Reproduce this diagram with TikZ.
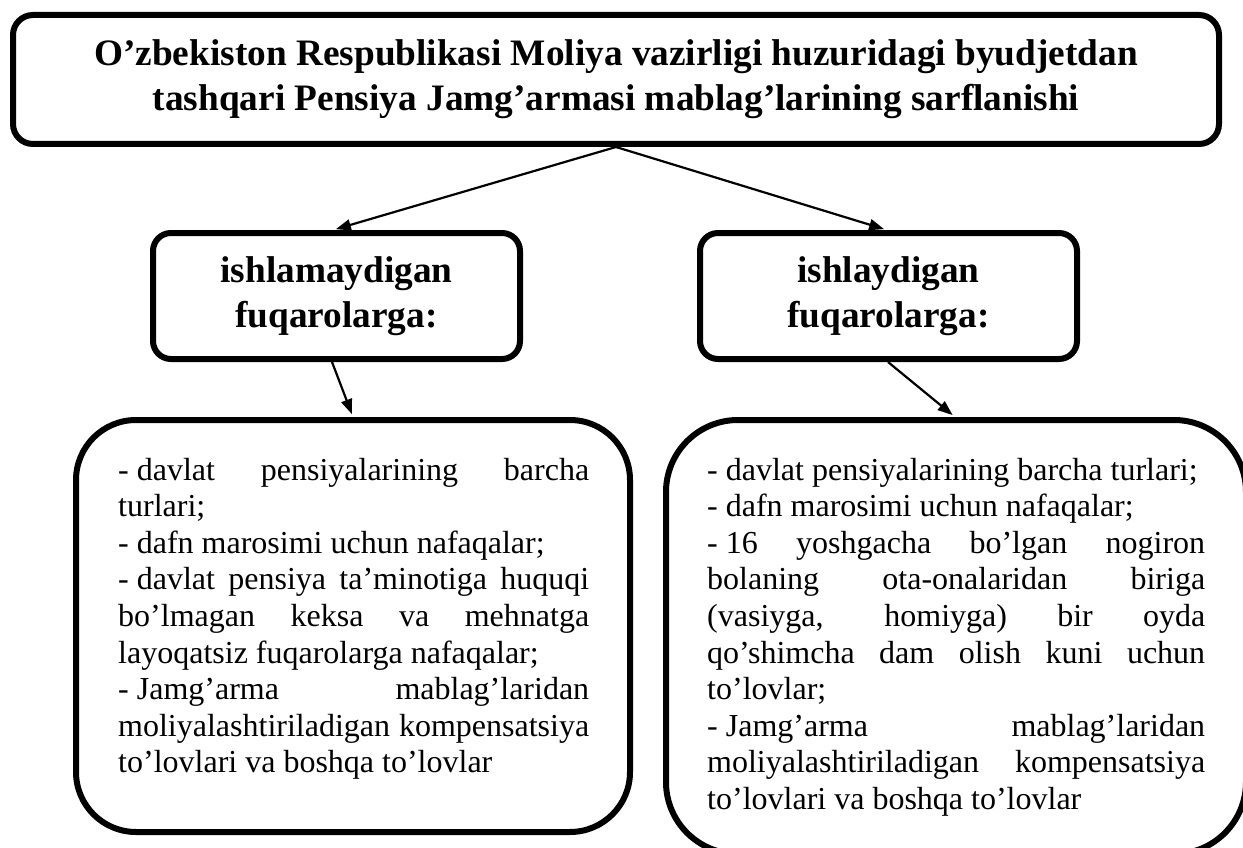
\documentclass[tikz,border=0pt]{standalone}
\usepackage{fontspec}
\setmainfont{Liberation Serif}
\usetikzlibrary{arrows.meta}
\newcommand\jline[2]{\leavevmode\hbox to #1{#2}}
\newcommand\natspaces{\spaceskip=0pt\xspaceskip=0pt\relax}
\begin{document}
\begin{tikzpicture}[x=1pt,y=-1pt,
  box/.style={draw=black, line width=6pt, rounded corners=#1, inner sep=0pt},
  head/.style={font=\fontsize{37.3}{45}\selectfont\bfseries, align=center},
  body/.style={font=\fontsize{32}{36.6}\selectfont, align=left, anchor=base west, inner sep=0pt},
  conn/.style={line width=2.2pt, -{Triangle[length=15pt,width=11pt]}, shorten >=3pt}]
\useasboundingbox (0,0) rectangle (1243,848);
\clip (0,0) rectangle (1243,848);

\node[box=20pt, minimum width=1206pt, minimum height=129pt, head] (top) at (616,79.5)
  {\natspaces O’zbekiston Respublikasi Moliya vazirligi huzuridagi byudjetdan\\
   tashqari Pensiya Jamg’armasi mablag’larining sarflanishi};

\node[box=18pt, minimum width=367pt, minimum height=126pt, head] (lm) at (336.5,296)
  {ishlamaydigan\\ fuqarolarga:};
\node[box=18pt, minimum width=377pt, minimum height=126pt, head] (rm) at (888.5,296)
  {ishlaydigan\\ fuqarolarga:};

\node[box=60pt, minimum width=554pt, minimum height=412pt] (lb) at (353,626) {};
\node[box=72pt, minimum width=580pt, minimum height=434pt] (rb) at (956,637) {};

\node[body, text width=471pt] (lt) at (118,480)
  {\natspaces
   \jline{471pt}{-\hspace{0.25em}davlat pensiyalarining barcha}\\
   turlari;\\
   -\hspace{0.25em}dafn marosimi uchun nafaqalar;\\
   \jline{471pt}{-\hspace{0.25em}davlat pensiya ta’minotiga huquqi}\\
   \jline{471pt}{bo’lmagan keksa va mehnatga}\\
   layoqatsiz fuqarolarga nafaqalar;\\
   \jline{471pt}{-\hspace{0.25em}Jamg’arma mablag’laridan}\\
   \jline{471pt}{moliyalashtiriladigan kompensatsiya}\\
   to’lovlari va boshqa to’lovlar};

\node[body, text width=498pt] (rt) at (707,480)
  {\natspaces
   -\hspace{0.25em}davlat pensiyalarining barcha turlari;\\
   -\hspace{0.25em}dafn marosimi uchun nafaqalar;\\
   \jline{498pt}{-\hspace{0.25em}16 yoshgacha bo’lgan nogiron}\\
   \jline{498pt}{bolaning ota-onalaridan biriga}\\
   \jline{498pt}{(vasiyga, homiyga) bir oyda}\\
   \jline{498pt}{qo’shimcha dam olish kuni uchun}\\
   to’lovlar;\\
   \jline{498pt}{-\hspace{0.25em}Jamg’arma mablag’laridan}\\
   \jline{498pt}{moliyalashtiriladigan kompensatsiya}\\
   to’lovlari va boshqa to’lovlar};

\draw[conn] (top.south) -- ([xshift=-3.5pt]lm.north);
\draw[conn] (top.south) -- ([xshift=-1.5pt]rm.north);
\draw[conn] ([xshift=-4.5pt]lm.south) -- (lb.north);
\draw[conn] ([xshift=-0.5pt]rm.south) -- ([xshift=-1pt]rb.north);
\end{tikzpicture}
\end{document}
